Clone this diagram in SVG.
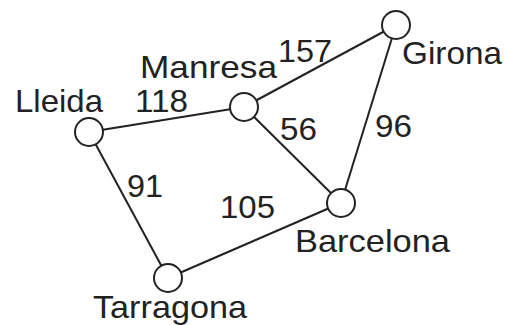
<svg xmlns="http://www.w3.org/2000/svg" width="506" height="325" viewBox="0 0 506 325">
<style>
.e{stroke:#222;stroke-width:2;fill:none}
.n{fill:#fff;stroke:#222;stroke-width:2}
text{font-family:"Liberation Sans",Arial,sans-serif;font-size:32px;fill:#222}
</style>
<rect width="506" height="325" fill="#fff"/>
<g id="connectors">
<line class="e" x1="89" y1="132" x2="244" y2="107"/>
<line class="e" x1="89" y1="132" x2="168" y2="278"/>
<line class="e" x1="244" y1="107" x2="396" y2="25"/>
<line class="e" x1="244" y1="107" x2="341" y2="203"/>
<line class="e" x1="396" y1="25" x2="341" y2="203"/>
<line class="e" x1="168" y1="278" x2="341" y2="203"/>
<text x="135" y="112" textLength="53" lengthAdjust="spacingAndGlyphs">118</text>
<text x="278" y="62" textLength="54" lengthAdjust="spacingAndGlyphs">157</text>
<text x="127" y="197" textLength="36" lengthAdjust="spacingAndGlyphs">91</text>
<text x="280" y="140" textLength="37" lengthAdjust="spacingAndGlyphs">56</text>
<text x="375" y="137" textLength="37" lengthAdjust="spacingAndGlyphs">96</text>
<text x="220" y="218" textLength="55" lengthAdjust="spacingAndGlyphs">105</text>
</g>
<g id="lleida"><circle class="n" cx="89" cy="132" r="14"/><text x="15" y="112" textLength="88" lengthAdjust="spacingAndGlyphs">Lleida</text></g>
<g id="manresa"><circle class="n" cx="244" cy="107" r="14"/><text x="140" y="78" textLength="137" lengthAdjust="spacingAndGlyphs">Manresa</text></g>
<g id="girona"><circle class="n" cx="396" cy="25" r="14"/><text x="402" y="64" textLength="100" lengthAdjust="spacingAndGlyphs">Girona</text></g>
<g id="barcelona"><circle class="n" cx="341" cy="203" r="14"/><text x="295" y="252" textLength="155" lengthAdjust="spacingAndGlyphs">Barcelona</text></g>
<g id="tarragona"><circle class="n" cx="168" cy="278" r="14"/><text x="93" y="318" textLength="154" lengthAdjust="spacingAndGlyphs">Tarragona</text></g>
</svg>
